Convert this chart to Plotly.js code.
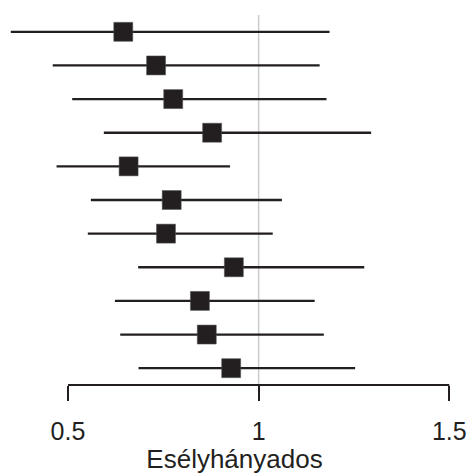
<!DOCTYPE html>
<html>
<head>
<meta charset="utf-8">
<script src="https://cdn.plot.ly/plotly-3.0.1.min.js"></script>
<style>html,body{margin:0;padding:0;background:#fff;}#chart{width:469px;height:474px;}</style>
</head>
<body>
<div id="chart"></div>
<script>
// Row index (1 = top)
const rows = [1, 2, 3, 4, 5, 6, 7, 8, 9, 10, 11];
// Odds ratio estimates
const estimates = [0.645, 0.731, 0.776, 0.878, 0.659, 0.772, 0.757, 0.935, 0.846, 0.864, 0.928];
// Lower 95% CI
const lower = [0.350, 0.460, 0.511, 0.594, 0.470, 0.560, 0.552, 0.684, 0.623, 0.637, 0.685];
// Upper 95% CI
const upper = [1.186, 1.160, 1.178, 1.295, 0.925, 1.061, 1.037, 1.277, 1.147, 1.171, 1.253];
// Axis ticks
const tickValues = [0.5, 1, 1.5];
const tickLabels = ['0.5', '1', '1.5'];
const xTitle = 'Esélyhányados';
const refValue = 1;

const dark = '#231f20';

const trace = {
  type: 'scatter',
  mode: 'markers',
  x: estimates,
  y: rows,
  marker: {symbol: 'square', size: 19, color: dark, line: {color: '#555', width: 0.5}},
  error_x: {
    type: 'data',
    symmetric: false,
    array: upper.map((u, i) => u - estimates[i]),
    arrayminus: lower.map((l, i) => estimates[i] - l),
    width: 0,
    thickness: 2.3,
    color: dark
  },
  hoverinfo: 'x',
  showlegend: false
};

const layout = {
  width: 469,
  height: 474,
  margin: {l: 0, r: 0, t: 15, b: 89},
  paper_bgcolor: '#fff',
  plot_bgcolor: '#fff',
  font: {family: '"Liberation Sans", Arial, sans-serif', color: '#231f20'},
  xaxis: {
    range: [0.3217, 1.5517],
    tickvals: tickValues,
    ticktext: tickLabels,
    ticks: 'outside',
    ticklen: 15,
    tickwidth: 2,
    tickcolor: dark,
    ticklabelstandoff: 9,
    tickfont: {size: 25, color: dark},
    showgrid: false,
    zeroline: false,
    showline: false,
    title: {text: xTitle, font: {size: 26, color: dark}, standoff: 3}
  },
  yaxis: {
    range: [11.5, 0.5],
    visible: false,
    showgrid: false,
    zeroline: false
  },
  shapes: [
    {type: 'line', xref: 'x', yref: 'paper', x0: refValue, x1: refValue, y0: 0, y1: 1,
     line: {color: '#cccccc', width: 1.5}, layer: 'below'},
    {type: 'line', xref: 'x', yref: 'paper', x0: tickValues[0], x1: tickValues[tickValues.length - 1], y0: 0, y1: 0,
     line: {color: dark, width: 2}}
  ]
};

Plotly.newPlot('chart', [trace], layout, {displayModeBar: false, staticPlot: true});
</script>
</body>
</html>
